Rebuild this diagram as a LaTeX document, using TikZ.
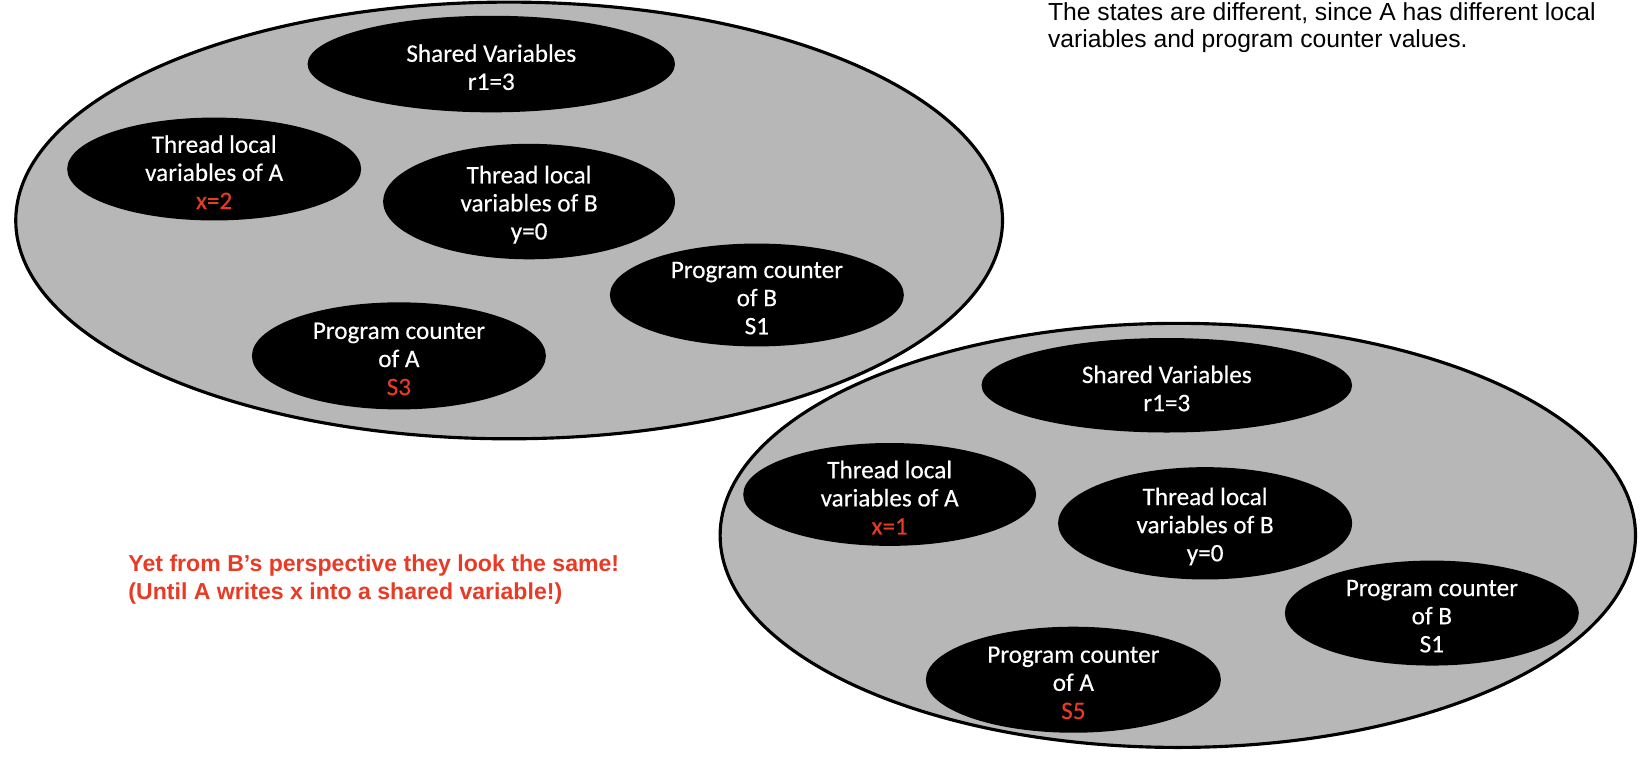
\documentclass[tikz,border=0pt]{standalone}
\usepackage{fontspec}
\setmainfont{Liberation Sans}
\newfontfamily\calfont[FakeBold=0.4]{Carlito}
\usetikzlibrary{shapes.geometric}
\definecolor{bggray}{RGB}{183,183,183}
\definecolor{redtxt}{RGB}{232,58,36}
\begin{document}
\begin{tikzpicture}[x=0.5pt,y=-0.5pt,
  outer/.style={ellipse, draw=black, line width=1.5pt, fill=bggray, inner sep=0pt},
  blob/.style={ellipse, fill=black, inner sep=0pt},
  lbl/.style={text=white, align=center, font=\calfont\fontsize{12}{13.4}\selectfont, inner sep=0pt, yshift=-1.5pt},
  note/.style={align=left, inner sep=0pt, anchor=north west}
]
\useasboundingbox (0,0) rectangle (1568,730);

% first state
\node[outer, minimum width=470pt, minimum height=208pt] (st1) at (485,210) {};
\node[blob, minimum width=175pt, minimum height=46pt] (sv1) at (468,61) {};
\node[blob, minimum width=140pt, minimum height=49pt] (ta1) at (204,161) {};
\node[blob, minimum width=139pt, minimum height=55pt] (tb1) at (504,192) {};
\node[blob, minimum width=140pt, minimum height=49pt] (pb1) at (721,281) {};
\node[blob, minimum width=140pt, minimum height=51pt] (pa1) at (380,339) {};
\node[lbl] (sv1t) at (sv1) {Shared Variables\\r1=3};
\node[lbl] (ta1t) at (ta1) {Thread local\\variables of A\\\textcolor{redtxt}{x=2}};
\node[lbl] (tb1t) at (tb1) {Thread local\\variables of B\\y=0};
\node[lbl] (pb1t) at (pb1) {Program counter\\of B\\S1};
\node[lbl] (pa1t) at (pa1) {Program counter\\of A\\\textcolor{redtxt}{S3}};

% second state
\node[outer, minimum width=436pt, minimum height=202pt] (st2) at (1122,510) {};
\node[blob, minimum width=176.5pt, minimum height=45pt] (sv2) at (1111.5,367) {};
\node[blob, minimum width=139.5pt, minimum height=49pt] (ta2) at (847.5,471) {};
\node[blob, minimum width=140pt, minimum height=53.5pt] (tb2) at (1148,498.5) {};
\node[blob, minimum width=140pt, minimum height=50pt] (pb2) at (1364,584) {};
\node[blob, minimum width=140.5pt, minimum height=50.5pt] (pa2) at (1022.5,647.5) {};
\node[lbl] (sv2t) at (sv2) {Shared Variables\\r1=3};
\node[lbl] (ta2t) at (ta2) {Thread local\\variables of A\\\textcolor{redtxt}{x=1}};
\node[lbl] (tb2t) at (tb2) {Thread local\\variables of B\\y=0};
\node[lbl] (pb2t) at (pb2) {Program counter\\of B\\S1};
\node[lbl] (pa2t) at (pa2) {Program counter\\of A\\\textcolor{redtxt}{S5}};

% notes
\node[note, font=\fontsize{11.75}{13}\selectfont] (n1) at (998,2)
  {The states are different, since A has different local\\variables and program counter values.};
\node[note, text=redtxt, font=\bfseries\fontsize{11}{13.5}\selectfont] (n2) at (122,528)
  {Yet from B’s perspective they look the same!\\(Until A writes x into a shared variable!)};
\end{tikzpicture}
\end{document}
